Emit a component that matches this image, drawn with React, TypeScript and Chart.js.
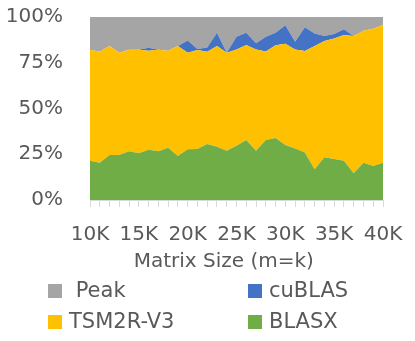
import React, { useEffect, useRef } from 'react';
import { Chart, registerables } from 'chart.js';
Chart.register(...registerables);

const categories = ['10K','11K','12K','13K','14K','15K','16K','17K','18K','19K','20K','21K','22K','23K','24K','25K','26K','27K','28K','29K','30K','31K','32K','33K','34K','35K','36K','37K','38K','39K','40K'];
const blasx = [21.5,20.4,24.6,24.6,26.6,25.5,27.5,26.6,28.6,24.0,27.7,27.9,30.6,29.1,26.9,29.7,32.8,26.9,32.8,33.9,30.0,28.2,25.9,16.8,23.3,22.4,21.5,14.6,20.4,18.6,20.4];
const tsm2r = [60.5,60.8,59.6,55.9,55.5,56.6,54.1,55.5,53.0,60.2,52.8,54.1,50.4,55.1,53.6,52.6,51.9,55.4,48.4,50.6,55.4,54.1,55.5,67.4,63.6,65.9,68.7,75.0,72.1,75.0,75.2];
const cublas = [0,0,0,0,0,0,1.6,0,0,0,6.7,0.5,2.4,7.2,0,6.9,6.7,3.3,8.0,6.9,10.1,4.2,13.0,6.8,2.7,2.4,3.1,0,0,0,0];
const peak = [18.0,18.8,15.8,19.5,17.9,17.9,16.8,17.9,18.4,15.8,12.8,17.5,16.6,8.6,19.5,10.8,8.6,14.4,10.8,8.6,4.5,13.5,5.6,9.0,10.4,9.3,6.7,10.4,7.5,6.4,4.4];
const yTickLabels = ['0%','25%','50%','75%','100%'];
const xTitle = 'Matrix Size (m=k)    ';

const FONT = 'DejaVu Sans';
const TEXT = '#595959';

const legendItems = [
  { label: ' Peak', color: '#A5A5A5', left: 48, top: 283 },
  { label: 'cuBLAS', color: '#4472C4', left: 248, top: 283 },
  { label: 'TSM2R-V3', color: '#FFC000', left: 48, top: 314 },
  { label: 'BLASX', color: '#70AD47', left: 248, top: 314 },
];

const TARGET = { left: 90, top: 17, right: 383, bottom: 200 };

export default function App() {
  const ref = useRef<HTMLCanvasElement>(null);
  useEffect(() => {
    const font = { family: FONT, size: 20 };
    const ds = (label: string, data: number[], color: string, fill: any) => ({
      label, data, backgroundColor: color, borderColor: color, borderWidth: 0,
      pointRadius: 0, fill, tension: 0,
    });
    const pad = { left: 6, right: 32, top: 17, bottom: 54 };
    const chart = new Chart(ref.current!, {
      type: 'line',
      data: {
        labels: categories,
        datasets: [
          ds('BLASX', blasx, '#70AD47', 'origin'),
          ds('TSM2R-V3', tsm2r, '#FFC000', '-1'),
          ds('cuBLAS', cublas, '#4472C4', '-1'),
          ds('Peak', peak, '#A5A5A5', '-1'),
        ],
      },
      options: {
        responsive: false,
        animation: false,
        layout: { padding: pad },
        plugins: { legend: { display: false }, tooltip: { enabled: false } },
        scales: {
          x: {
            offset: false,
            grid: { drawOnChartArea: false, color: '#D9D9D9', tickLength: 7 },
            border: { color: '#D9D9D9' },
            ticks: {
              autoSkip: false, maxRotation: 0, minRotation: 0, padding: 3,
              font: { family: FONT, size: 20, lineHeight: 2.5 }, color: TEXT,
              callback: (_v: any, i: number) => (i % 5 === 0 ? categories[i] : ''),
            },
            title: { display: true, text: xTitle, font, color: TEXT, padding: { top: 2, bottom: 0 } },
            afterFit: (s: any) => { s.height = s.height - 15; },
          },
          y: {
            stacked: true, min: 0, max: 100,
            grid: { color: '#D9D9D9', drawTicks: true, tickLength: 25, tickColor: 'rgba(0,0,0,0)' },
            border: { display: false },
            ticks: {
              stepSize: 25, padding: 2, font, color: TEXT,
              callback: (_v: any, i: number) => yTickLabels[i],
            },
          },
        },
      },
    });
    for (let k = 0; k < 3; k++) {
      const ca = chart.chartArea;
      const dl = TARGET.left - ca.left;
      const dt = TARGET.top - ca.top;
      const dr = ca.right - TARGET.right;
      const db = ca.bottom - TARGET.bottom;
      if (Math.abs(dl) + Math.abs(dt) + Math.abs(dr) + Math.abs(db) < 0.5) break;
      pad.left += dl; pad.top += dt; pad.right += dr; pad.bottom += db;
      (chart.options as any).layout.padding = { ...pad };
      chart.update();
    }
    return () => chart.destroy();
  }, []);
  return (
    <div style={{ position: 'fixed', left: 0, top: 0, width: 415, height: 341, background: '#fff' }}>
      <canvas ref={ref} width={415} height={341} style={{ width: 415, height: 341 }} />
      {legendItems.map((it) => (
        <div key={it.label} style={{ position: 'absolute', left: it.left, top: it.top, height: 15, display: 'flex', alignItems: 'center' }}>
          <div style={{ width: 14, height: 14, background: it.color, marginRight: 7 }} />
          <span style={{ fontFamily: FONT, fontSize: 21, color: TEXT, lineHeight: '15px', whiteSpace: 'pre' }}>{it.label}</span>
        </div>
      ))}
    </div>
  );
}
